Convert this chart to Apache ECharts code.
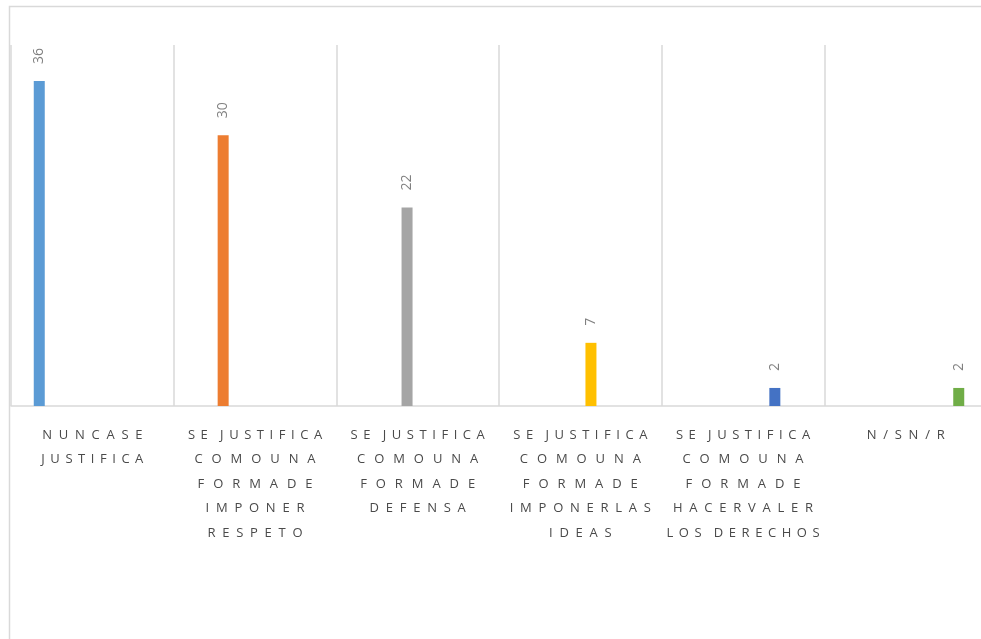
<!DOCTYPE html>
<html>
<head>
<meta charset="utf-8">
<title>Justificación de la violencia</title>
<script src="https://cdn.jsdelivr.net/npm/echarts@6/dist/echarts.min.js"></script>
<style>
  html, body { margin: 0; padding: 0; background: #ffffff; overflow: hidden; }
  #chart { width: 1100px; height: 639px; }
</style>
</head>
<body>
<div id="chart"></div>
<script>
// Category labels, one entry per text line
const categories = [
  ['NUNCASE', 'JUSTIFICA'],
  ['SE JUSTIFICA', 'COMOUNA', 'FORMADE', 'IMPONER', 'RESPETO'],
  ['SE JUSTIFICA', 'COMOUNA', 'FORMADE', 'DEFENSA'],
  ['SE JUSTIFICA', 'COMOUNA', 'FORMADE', 'IMPONERLAS', 'IDEAS'],
  ['SE JUSTIFICA', 'COMOUNA', 'FORMADE', 'HACERVALER', 'LOS DERECHOS'],
  ['N/SN/R']
];

// Responses per category
const values = [36, 30, 22, 7, 2, 2];

const barColors = ['#5b9bd5', '#ed7d31', '#a5a5a5', '#ffc000', '#4472c4', '#70ad47'];

// Distributed label text: letters are pulled apart by a per-line gap
const GAP_NARROW = ' \u2006';
const GAP_MID = '  ';
const GAP_WIDE = '  \u2006';
const lineGaps = {
  'JUSTIFICA': GAP_NARROW,
  'SE JUSTIFICA': GAP_NARROW,
  'LOS DERECHOS': GAP_NARROW,
  'COMOUNA': GAP_WIDE,
  'FORMADE': GAP_WIDE
};
function spread(line) {
  const gap = lineGaps[line] || GAP_MID;
  return line.split(' ').map(w => w.split('').join(gap)).join(gap + '  ');
}

const catKeys = categories.map((_, i) => 'c' + i);
const catText = categories.map(lines => lines.map(spread).join('\n'));

const series = values.map((v, i) => ({
  type: 'bar',
  name: catKeys[i],
  barWidth: 11,
  barGap: '93%',
  itemStyle: { color: barColors[i] },
  data: catKeys.map((_, j) => (j === i ? v : null)),
  label: {
    show: true,
    position: 'top',
    distance: 17,
    rotate: 90,
    align: 'left',
    verticalAlign: 'middle',
    color: '#808080',
    fontFamily: 'Open Sans',
    fontSize: 14
  }
}));

const chart = echarts.init(document.getElementById('chart'), null, { renderer: 'canvas' });
chart.setOption({
  animation: false,
  backgroundColor: '#ffffff',
  graphic: [{
    type: 'rect',
    shape: { x: 9.5, y: 6.5, width: 1200, height: 700 },
    style: { fill: 'none', stroke: '#d9d9d9', lineWidth: 1.5 },
    silent: true,
    z: -1
  }],
  grid: { left: 11, top: 45, width: 976, height: 361, containLabel: false },
  xAxis: {
    type: 'category',
    data: catKeys,
    boundaryGap: true,
    axisLine: { show: true, lineStyle: { color: '#d9d9d9', width: 1.5 } },
    axisTick: { show: false },
    splitLine: { show: true, lineStyle: { color: '#d9d9d9', width: 1.5 } },
    axisLabel: {
      interval: 0,
      hideOverlap: false,
      margin: 17,
      color: '#4a4a4a',
      fontFamily: 'Open Sans',
      fontSize: 13,
      lineHeight: 24.4,
      align: 'center',
      formatter: (val, idx) => catText[idx]
    }
  },
  yAxis: {
    type: 'value',
    min: 0,
    max: 40,
    interval: 10,
    show: false,
    splitLine: { show: false }
  },
  series: series
});
</script>
</body>
</html>
